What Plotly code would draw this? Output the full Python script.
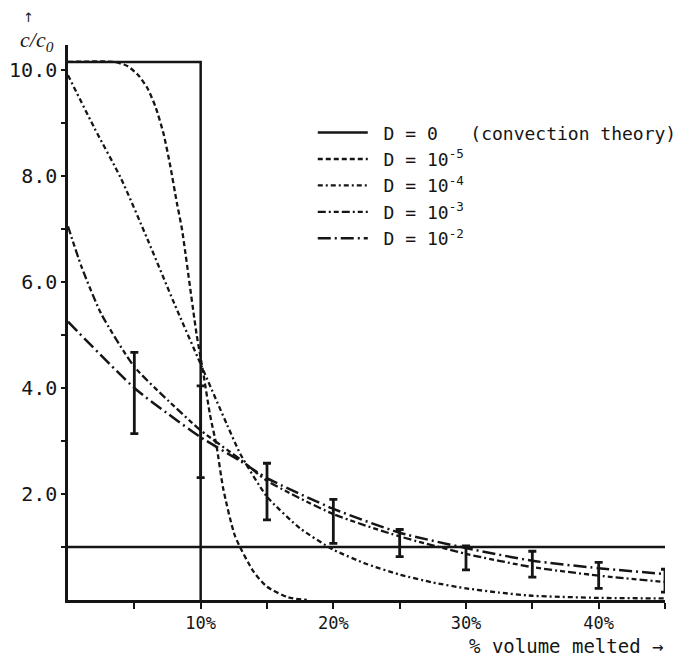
import plotly.graph_objects as go

# ---- data ----
d0_x = [0, 10, 10]
d0_y = [10.15, 10.15, 0]

ref_x = [0, 45]
ref_y = [1.0, 1.0]

d5_x = [0, 3.5, 4.5, 5.3, 6.0, 6.6, 7.2, 7.7, 8.2, 8.6, 9.7, 10.2, 10.7, 11.2, 11.7, 12.6, 14, 15, 16.6, 18]
d5_y = [10.15, 10.15, 10.07, 9.9, 9.65, 9.3, 8.8, 8.2, 7.5, 6.98, 5.0, 4.28, 3.5, 2.9, 2.1, 1.2, 0.53, 0.25, 0.05, 0.0]

d4_x = [0, 2, 4, 6, 8, 10, 12, 13, 15, 17.5, 20, 22.5, 25, 27.5, 30, 32.5, 35, 40, 45]
d4_y = [9.9, 8.9, 7.95, 6.8, 5.6, 4.45, 3.3, 2.75, 1.95, 1.35, 0.95, 0.68, 0.48, 0.33, 0.22, 0.14, 0.08, 0.04, 0.03]

d3_x = [0, 1, 2.5, 5, 7.6, 10, 13, 15, 20, 25, 30, 35, 40, 45]
d3_y = [7.05, 6.3, 5.4, 4.4, 3.75, 3.2, 2.65, 2.25, 1.62, 1.2, 0.87, 0.62, 0.46, 0.34]

d2_x = [0, 5, 7.6, 10, 13, 15, 20, 25, 30, 35, 40, 45]
d2_y = [5.25, 4.0, 3.5, 3.07, 2.62, 2.3, 1.72, 1.27, 0.98, 0.74, 0.6, 0.49]

err_x = [5, 10, 15, 20, 25, 30, 35, 40, 45]
err_low = [3.14, 2.31, 1.51, 1.07, 0.82, 0.57, 0.43, 0.22, 0.15]
err_high = [4.67, 4.04, 2.58, 1.90, 1.33, 1.02, 0.92, 0.71, 0.58]

x_major = [10, 20, 30, 40]
x_major_text = ["10%", "20%", "30%", "40%"]
x_minor = [5, 15, 25, 35, 45]
y_major = [2, 4, 6, 8, 10]
y_major_text = ["2.0", "4.0", "6.0", "8.0", "10.0"]
y_minor = [1, 3, 5, 7, 9]

INK = "#151515"
MONO = "DejaVu Sans Mono"
NB = "\u00a0"

fig = go.Figure()

fig.add_trace(go.Scatter(x=d0_x, y=d0_y, mode="lines",
                         name=NB + "D = 0" + NB * 3 + "(convection theory)",
                         line=dict(color=INK, width=2.5)))
fig.add_trace(go.Scatter(x=d5_x, y=d5_y, mode="lines", name=NB + "D = 10<sup>-5</sup>",
                         line=dict(color=INK, width=2.3, dash="5px,3px", shape="spline", smoothing=0.6)))
fig.add_trace(go.Scatter(x=d4_x, y=d4_y, mode="lines", name=NB + "D = 10<sup>-4</sup>",
                         line=dict(color=INK, width=2.3, dash="5px,3px,2px,3px", shape="spline", smoothing=0.6)))
fig.add_trace(go.Scatter(x=d3_x, y=d3_y, mode="lines", name=NB + "D = 10<sup>-3</sup>",
                         line=dict(color=INK, width=2.3, dash="8px,3px,2px,3px,5px,3px", shape="spline", smoothing=0.6)))
fig.add_trace(go.Scatter(x=d2_x, y=d2_y, mode="lines", name=NB + "D = 10<sup>-2</sup>",
                         line=dict(color=INK, width=2.5, dash="13px,4px,2px,4px", shape="spline", smoothing=0.6)))
fig.add_trace(go.Scatter(x=ref_x, y=ref_y, mode="lines", showlegend=False,
                         line=dict(color=INK, width=2.5)))

err_mid = [(a + b) / 2 for a, b in zip(err_low, err_high)]
err_half = [(b - a) / 2 for a, b in zip(err_low, err_high)]
fig.add_trace(go.Scatter(x=err_x, y=err_mid, mode="markers", showlegend=False,
                         marker=dict(size=1, color="rgba(0,0,0,0)"),
                         error_y=dict(type="data", array=err_half, symmetric=True,
                                      color=INK, thickness=2.8, width=4)))

fig.update_layout(
    width=700, height=657,
    margin=dict(l=68, r=35, t=45, b=57),
    paper_bgcolor="white", plot_bgcolor="white",
    font=dict(family=MONO, color=INK, size=15),
    legend=dict(x=0.41, y=0.875, xanchor="left", yanchor="top",
                bgcolor="rgba(0,0,0,0)", borderwidth=0,
                font=dict(family=MONO, size=18, color=INK),
                itemwidth=50, tracegroupgap=0),
    xaxis=dict(range=[0, 45], showgrid=False, zeroline=False, automargin=False,
               showline=True, linecolor=INK, linewidth=2.5,
               tickmode="array", tickvals=x_major, ticktext=x_major_text,
               ticks="outside", ticklen=6, tickwidth=2, tickcolor=INK,
               tickfont=dict(family=MONO, size=17, color=INK),
               minor=dict(tickmode="array", tickvals=x_minor, ticks="outside",
                          ticklen=6, tickwidth=2, tickcolor=INK)),
    yaxis=dict(range=[0, 10.47], showgrid=False, zeroline=False, automargin=False,
               showline=True, linecolor=INK, linewidth=2.5,
               tickmode="array", tickvals=y_major, ticktext=y_major_text,
               ticks="outside", ticklen=4, tickwidth=2, tickcolor=INK,
               tickfont=dict(family=MONO, size=20, color=INK),
               minor=dict(tickmode="array", tickvals=y_minor, ticks="outside",
                          ticklen=4, tickwidth=2, tickcolor=INK)),
    annotations=[
        dict(text="↑", xref="paper", yref="paper", x=-0.067, y=1.049,
             xanchor="center", yanchor="middle", showarrow=False,
             font=dict(family="DejaVu Sans", size=13, color=INK)),
        dict(text="<i>c/c<sub>0</sub></i>", xref="paper", yref="paper", x=-0.052, y=1.007,
             xanchor="center", yanchor="middle", showarrow=False,
             font=dict(family="Liberation Serif", size=22, color=INK)),
        dict(text="% volume melted →", xref="paper", yref="paper", x=1.0, y=-0.083,
             xanchor="right", yanchor="middle", showarrow=False,
             font=dict(family=MONO, size=19, color=INK)),
    ],
)

fig.write_html("out.html")
